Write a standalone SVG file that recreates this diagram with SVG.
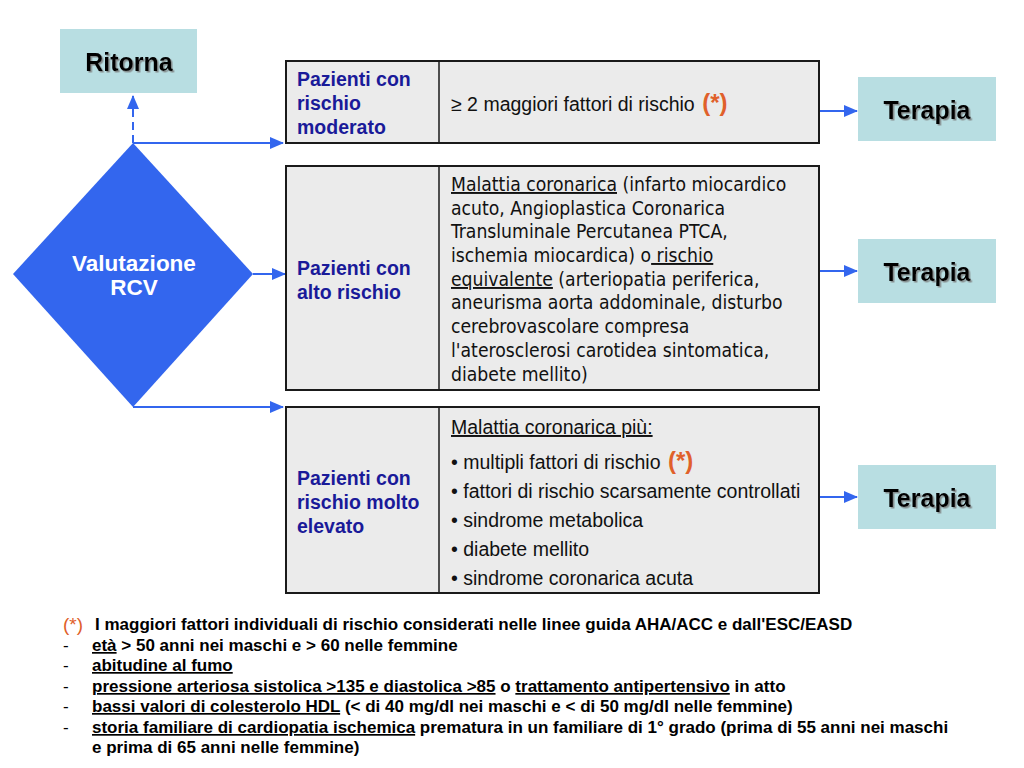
<svg xmlns="http://www.w3.org/2000/svg" width="1024" height="768" viewBox="0 0 1024 768">
<style>
.teal{fill:#b8dee2}
.box{fill:#ebebeb;stroke:#1a1a1a;stroke-width:2}
.div{stroke:#1a1a1a;stroke-width:1.5}
.ttl{font-family:"Liberation Sans",Arial,sans-serif;font-weight:bold;font-size:25px;fill:#000;text-anchor:middle;filter:url(#sh)}
.lab{font-family:"Liberation Sans",Arial,sans-serif;font-weight:bold;font-size:19.5px;fill:#1a1a99}
.txt{font-family:"Liberation Sans",Arial,sans-serif;font-size:19.5px;fill:#111}
.tah{font-family:"DejaVu Sans Condensed","Liberation Sans",sans-serif;font-size:19.2px;fill:#111}
.ast{font-family:"Liberation Sans",Arial,sans-serif;font-size:24px;fill:#e0602a}
.ft{font-family:"Liberation Sans",Arial,sans-serif;font-weight:bold;font-size:17px;fill:#000}
.dash{font-family:"Liberation Sans",Arial,sans-serif;font-size:17px;fill:#000}
.u{text-decoration:underline}
.con{stroke:#3366ee;stroke-width:2;fill:none}
</style>
<defs>
<marker id="ah2" markerWidth="14" markerHeight="12" refX="13" refY="6" orient="auto" markerUnits="userSpaceOnUse">
<path d="M0,0 L14,6 L0,12 z" fill="#3366ee"/>
</marker>
<filter id="sh" x="-10%" y="-20%" width="120%" height="140%">
<feDropShadow dx="1.5" dy="1.5" stdDeviation="0.6" flood-color="#777" flood-opacity="0.8"/>
</filter>
</defs>
<rect width="1024" height="768" fill="#fff"/>

<g id="connectors">
<line class="con" x1="133" y1="143" x2="133" y2="96" stroke-dasharray="8,5" marker-end="url(#ah2)"/>
<line class="con" x1="133" y1="143" x2="283" y2="143" marker-end="url(#ah2)"/>
<line class="con" x1="253" y1="274" x2="285" y2="274" marker-end="url(#ah2)"/>
<line class="con" x1="133" y1="407" x2="283" y2="407" marker-end="url(#ah2)"/>
<line class="con" x1="819" y1="111" x2="857" y2="111" marker-end="url(#ah2)"/>
<line class="con" x1="819" y1="271" x2="857" y2="271" marker-end="url(#ah2)"/>
<line class="con" x1="819" y1="497" x2="857" y2="497" marker-end="url(#ah2)"/>
</g>

<g id="ritorna">
<rect class="teal" x="60" y="29" width="137" height="64"/>
<text class="ttl" x="129" y="71">Ritorna</text>
</g>

<g id="valutazione">
<polygon points="133,143 253,274 133,407 13,274" fill="#3366ee"/>
<text x="134" y="271" font-family="Liberation Sans,Arial,sans-serif" font-weight="bold" font-size="22.5" fill="#fff" text-anchor="middle">Valutazione</text>
<text x="134" y="295" font-family="Liberation Sans,Arial,sans-serif" font-weight="bold" font-size="22.5" fill="#fff" text-anchor="middle">RCV</text>
</g>

<g id="moderato">
<rect class="box" x="286" y="61" width="533" height="82"/>
<line class="div" x1="439" y1="61" x2="439" y2="143"/>
<text class="lab" x="297" y="86">Pazienti con</text>
<text class="lab" x="297" y="110">rischio</text>
<text class="lab" x="297" y="134">moderato</text>
<text class="txt" x="451" y="111">≥ 2 maggiori fattori di rischio <tspan class="ast" font-weight="bold" dx="2">(*)</tspan></text>
</g>

<g id="alto">
<rect class="box" x="286" y="166" width="533" height="224"/>
<line class="div" x1="439" y1="166" x2="439" y2="390"/>
<text class="lab" x="297" y="275">Pazienti con</text>
<text class="lab" x="297" y="299">alto rischio</text>
<text class="tah" x="451" y="191"><tspan class="u">Malattia coronarica</tspan> (infarto miocardico</text>
<text class="tah" x="451" y="215">acuto, Angioplastica Coronarica</text>
<text class="tah" x="451" y="238">Transluminale Percutanea PTCA,</text>
<text class="tah" x="451" y="262">ischemia miocardica) o<tspan class="u"> rischio</tspan></text>
<text class="tah" x="451" y="286"><tspan class="u">equivalente</tspan> (arteriopatia periferica,</text>
<text class="tah" x="451" y="309">aneurisma aorta addominale, disturbo</text>
<text class="tah" x="451" y="333">cerebrovascolare compresa</text>
<text class="tah" x="451" y="357">l'aterosclerosi carotidea sintomatica,</text>
<text class="tah" x="451" y="381">diabete mellito)</text>
</g>

<g id="molto-elevato">
<rect class="box" x="286" y="407" width="533" height="186"/>
<line class="div" x1="439" y1="407" x2="439" y2="593"/>
<text class="lab" x="297" y="485">Pazienti con</text>
<text class="lab" x="297" y="509">rischio molto</text>
<text class="lab" x="297" y="533">elevato</text>
<text class="txt" x="451" y="434"><tspan class="u">Malattia coronarica più:</tspan></text>
<text class="txt" x="451" y="469">• multipli fattori di rischio <tspan class="ast" font-weight="bold" dx="2">(*)</tspan></text>
<text class="txt" x="451" y="498">• fattori di rischio scarsamente controllati</text>
<text class="txt" x="451" y="527">• sindrome metabolica</text>
<text class="txt" x="451" y="556">• diabete mellito</text>
<text class="txt" x="451" y="585">• sindrome coronarica acuta</text>
</g>

<g id="terapia1">
<rect class="teal" x="858" y="77" width="138" height="64"/>
<text class="ttl" x="927" y="119">Terapia</text>
</g>
<g id="terapia2">
<rect class="teal" x="858" y="239" width="138" height="64"/>
<text class="ttl" x="927" y="281">Terapia</text>
</g>
<g id="terapia3">
<rect class="teal" x="858" y="465" width="138" height="64"/>
<text class="ttl" x="927" y="507">Terapia</text>
</g>

<g id="legenda">
<text x="63" y="631" font-family="Liberation Sans,Arial,sans-serif" font-size="19" fill="#e0602a">(*)</text>
<text class="ft" x="95" y="630">I maggiori fattori individuali di rischio considerati nelle linee guida AHA/ACC e dall'ESC/EASD</text>
<text class="dash" x="63" y="651">-</text>
<text class="ft" x="92" y="651"><tspan class="u">età</tspan> &gt; 50 anni nei maschi e &gt; 60 nelle femmine</text>
<text class="dash" x="63" y="671">-</text>
<text class="ft" x="92" y="671"><tspan class="u">abitudine al fumo</tspan></text>
<text class="dash" x="63" y="692">-</text>
<text class="ft" x="92" y="692"><tspan class="u">pressione arteriosa sistolica &gt;135 e diastolica &gt;85</tspan> o <tspan class="u">trattamento antipertensivo</tspan> in atto</text>
<text class="dash" x="63" y="712">-</text>
<text class="ft" x="92" y="712"><tspan class="u">bassi valori di colesterolo HDL</tspan> (&lt; di 40 mg/dl nei maschi e &lt; di 50 mg/dl nelle femmine)</text>
<text class="dash" x="63" y="733">-</text>
<text class="ft" x="92" y="733"><tspan class="u">storia familiare di cardiopatia ischemica</tspan> prematura in un familiare di 1° grado (prima di 55 anni nei maschi</text>
<text class="ft" x="92" y="753">e prima di 65 anni nelle femmine)</text>
</g>
</svg>
